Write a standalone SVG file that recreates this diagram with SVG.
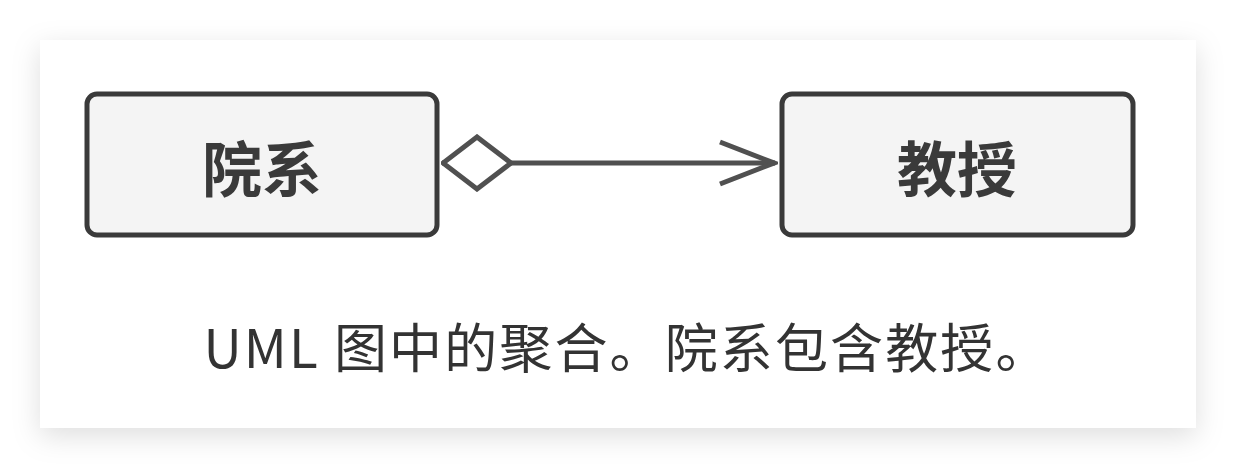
<svg xmlns="http://www.w3.org/2000/svg" width="1236" height="468" viewBox="0 0 1236 468">
<defs>
<filter id="sh" x="-10%" y="-20%" width="120%" height="145%">
<feDropShadow dx="0" dy="8" stdDeviation="14" flood-color="#000" flood-opacity="0.13"/>
</filter>
<marker id="diamond" viewBox="0 0 72 58" refX="71" refY="29" markerWidth="72" markerHeight="58" markerUnits="userSpaceOnUse" orient="auto-start-reverse">
<path d="M2 29 L36 3 L70 29 L36 55 Z" fill="#fff" stroke="#505050" stroke-width="5"/>
</marker>
<marker id="open" viewBox="0 0 60 50" refX="57" refY="25" markerWidth="60" markerHeight="50" markerUnits="userSpaceOnUse" orient="auto">
<path d="M2 4 L56 25 L2 46" fill="none" stroke="#505050" stroke-width="5"/>
</marker>
<style>
.box{fill:#f4f4f4;stroke:#3a3a3a;stroke-width:5}
.lbl{font-family:"Noto Sans CJK SC","Noto Sans",sans-serif;font-size:60px;font-weight:600;fill:#3a3a3a;text-anchor:middle;dominant-baseline:central}
.cap{font-family:"Noto Sans CJK SC","Noto Sans",sans-serif;font-size:53px;fill:#333;text-anchor:middle}
.conn{stroke:#505050;stroke-width:5;fill:none}
</style>
</defs>
<rect x="0" y="0" width="1236" height="468" fill="#fff"/>
<rect x="40" y="40" width="1156" height="388" fill="#fff" filter="url(#sh)"/>
<g id="node-yuanxi">
<rect class="box" x="87" y="94" width="350" height="141" rx="10"/>
<text class="lbl" x="262" y="165">院系</text>
</g>
<g id="node-jiaoshou">
<rect class="box" x="782" y="94" width="351" height="141" rx="10"/>
<text class="lbl" x="957" y="165">教授</text>
</g>
<g id="connectors">
<path class="conn" d="M442 163 L775 163" marker-start="url(#diamond)" marker-end="url(#open)"/>
</g>
<text class="cap" x="626" y="368" textLength="845" lengthAdjust="spacing">UML 图中的聚合。院系包含教授。</text>
</svg>
